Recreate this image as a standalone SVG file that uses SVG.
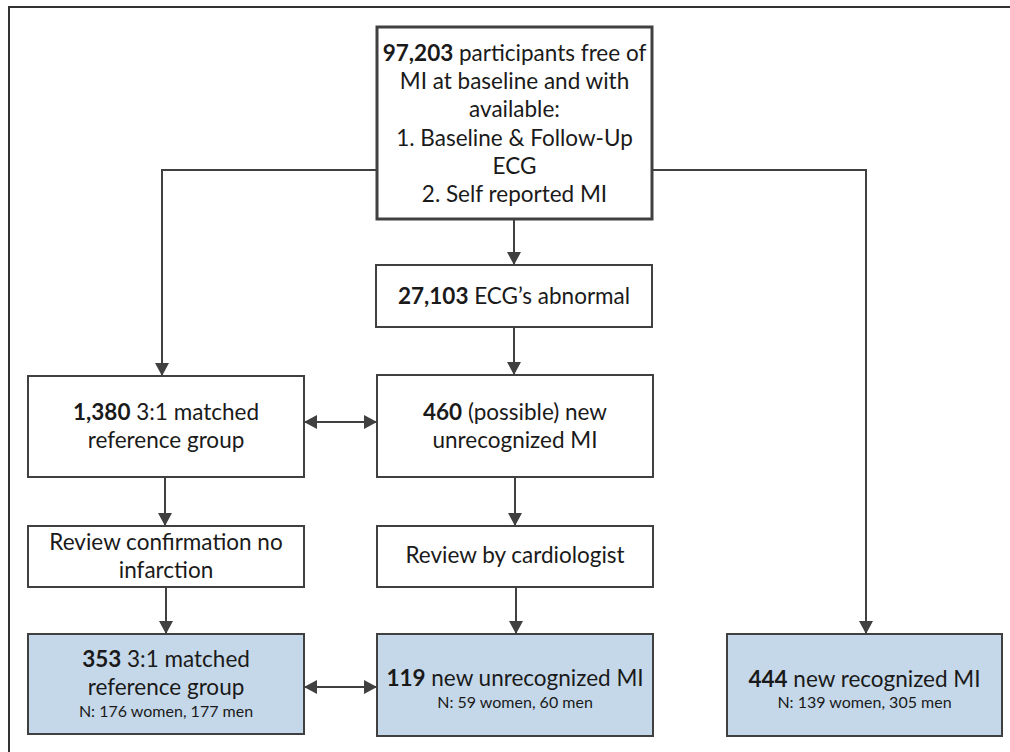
<svg xmlns="http://www.w3.org/2000/svg" width="1010" height="752" viewBox="0 0 1010 752">
<style>
  .frame { fill: none; stroke: #333; stroke-width: 2; }
  .box { fill: #fff; stroke: #404040; stroke-width: 2; }
  .box.main { stroke-width: 3; }
  .box.result { fill: #c5d8e9; }
  .t { font-family: Lato, "Open Sans", "Liberation Sans", sans-serif; font-size: 22.5px; fill: #1a1a1a; text-anchor: middle; }
  .s { font-size: 16px; }
  .b { font-weight: bold; }
  .c { fill: none; stroke: #404040; stroke-width: 2; }
</style>
<defs>
  <marker id="ah" markerUnits="userSpaceOnUse" markerWidth="15" markerHeight="15" refX="13" refY="7" orient="auto-start-reverse">
    <path d="M0,0 L13,7 L0,14 z" fill="#404040"/>
  </marker>
</defs>
<rect width="1010" height="752" fill="#fff"/>
<path class="frame" d="M9,760 L9,7 L1020,7"/>

<g id="n-start">
  <rect class="box main" x="377" y="27" width="275" height="192"/>
  <text class="t" x="514.5" y="61"><tspan class="b">97,203</tspan> participants free of</text>
  <text class="t" x="514.5" y="89">MI at baseline and with</text>
  <text class="t" x="514.5" y="117">available:</text>
  <text class="t" x="514.5" y="146">1. Baseline &amp; Follow-Up</text>
  <text class="t" x="514.5" y="174">ECG</text>
  <text class="t" x="514.5" y="202">2. Self reported MI</text>
</g>
<g id="n-abnormal">
  <rect class="box" x="376" y="265" width="276" height="62"/>
  <text class="t" x="514" y="304"><tspan class="b">27,103</tspan> ECG’s abnormal</text>
</g>
<g id="n-ref1380">
  <rect class="box" x="28" y="376" width="276" height="101"/>
  <text class="t" x="166" y="420"><tspan class="b">1,380</tspan> 3:1 matched</text>
  <text class="t" x="166" y="448">reference group</text>
</g>
<g id="n-possible460">
  <rect class="box" x="377" y="375" width="276" height="102"/>
  <text class="t" x="515" y="420"><tspan class="b">460</tspan> (possible) new</text>
  <text class="t" x="515" y="448">unrecognized MI</text>
</g>
<g id="n-reviewconf">
  <rect class="box" x="28" y="526" width="276" height="61"/>
  <text class="t" x="166" y="550">Review confirmation no</text>
  <text class="t" x="166" y="578">infarction</text>
</g>
<g id="n-reviewcard">
  <rect class="box" x="377" y="526" width="276" height="61"/>
  <text class="t" x="515" y="563">Review by cardiologist</text>
</g>
<g id="n-ref353">
  <rect class="box result" x="28" y="634" width="276" height="100"/>
  <text class="t" x="166" y="667"><tspan class="b">353</tspan> 3:1 matched</text>
  <text class="t" x="166" y="695">reference group</text>
  <text class="t s" x="166" y="717">N: 176 women, 177 men</text>
</g>
<g id="n-unrec119">
  <rect class="box result" x="377" y="634" width="276" height="102"/>
  <text class="t" x="515" y="686"><tspan class="b">119</tspan> new unrecognized MI</text>
  <text class="t s" x="515" y="708">N: 59 women, 60 men</text>
</g>
<g id="n-rec444">
  <rect class="box result" x="727" y="634" width="275" height="102"/>
  <text class="t" x="864.5" y="687"><tspan class="b">444</tspan> new recognized MI</text>
  <text class="t s" x="864.5" y="708">N: 139 women, 305 men</text>
</g>

<g id="connectors">
  <path class="c" d="M514,220 V265" marker-end="url(#ah)"/>
  <path class="c" d="M514,327 V375" marker-end="url(#ah)"/>
  <path class="c" d="M515,477 V526" marker-end="url(#ah)"/>
  <path class="c" d="M516,587 V634" marker-end="url(#ah)"/>
  <path class="c" d="M165,477 V526" marker-end="url(#ah)"/>
  <path class="c" d="M166,587 V634" marker-end="url(#ah)"/>
  <path class="c" d="M377,170 H162 V376" marker-end="url(#ah)"/>
  <path class="c" d="M652,170 H866 V634" marker-end="url(#ah)"/>
  <path class="c" d="M304,422 H377" marker-start="url(#ah)" marker-end="url(#ah)"/>
  <path class="c" d="M304,687 H377" marker-start="url(#ah)" marker-end="url(#ah)"/>
</g>
</svg>
